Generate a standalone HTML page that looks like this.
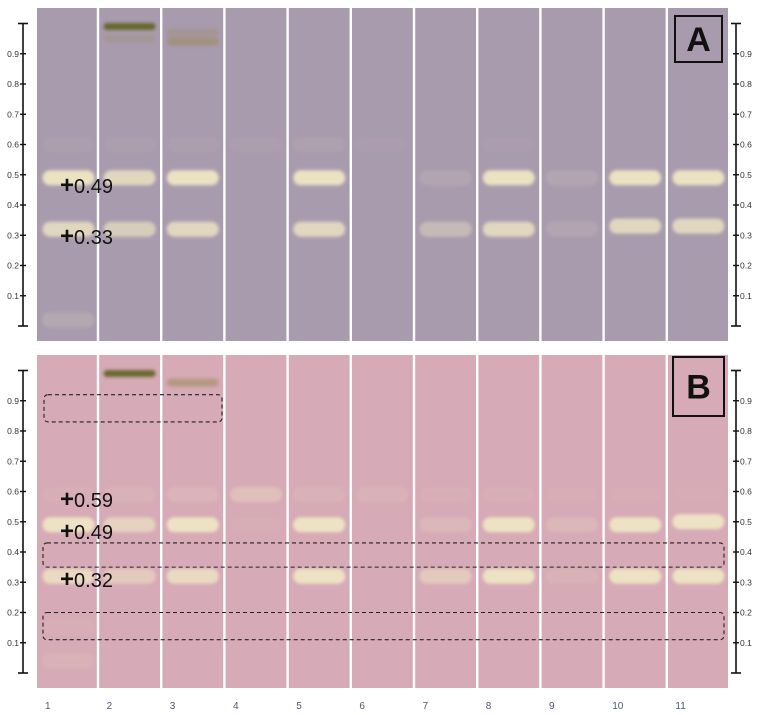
<!DOCTYPE html>
<html><head><meta charset="utf-8"><style>
html,body{margin:0;padding:0;background:#fff;width:761px;height:715px;overflow:hidden}
svg{display:block}
</style></head><body>
<svg id="chart" width="761" height="715" viewBox="0 0 761 715" xmlns="http://www.w3.org/2000/svg">
<defs>
<filter id="blur" x="-20%" y="-50%" width="140%" height="200%"><feGaussianBlur stdDeviation="1.6"/></filter>
</defs>
<g id="root"></g>
</svg>
<script>
// Data
const lanes = [1,2,3,4,5,6,7,8,9,10,11];
const axisTicks = [0.1,0.2,0.3,0.4,0.5,0.6,0.7,0.8,0.9];
// bands: [lane, rf, intensity(0..1), kind]
const bandsA = [
 [1,0.49,1,'c'],[1,0.32,0.9,'c'],[1,0.60,0.15,'c'],[1,0.02,0.35,'c'],
 [2,0.99,1,'g'],[2,0.95,0.3,'b'],[2,0.49,0.9,'c'],[2,0.32,0.8,'c'],[2,0.60,0.15,'c'],
 [3,0.97,0.35,'b'],[3,0.94,0.6,'b'],[3,0.49,1,'c'],[3,0.32,0.9,'c'],[3,0.60,0.15,'c'],
 [4,0.60,0.15,'c'],
 [5,0.49,1,'c'],[5,0.32,0.9,'c'],[5,0.60,0.2,'c'],
 [6,0.60,0.12,'c'],
 [7,0.49,0.3,'c'],[7,0.32,0.6,'c'],
 [8,0.49,1,'c'],[8,0.32,0.9,'c'],[8,0.60,0.12,'c'],
 [9,0.49,0.3,'c'],[9,0.32,0.3,'c'],
 [10,0.49,1,'c'],[10,0.33,0.9,'c'],
 [11,0.49,1,'c'],[11,0.33,0.9,'c']
];
const bandsB = [
 [1,0.49,1,'c'],[1,0.32,0.9,'c'],[1,0.59,0.2,'c'],[1,0.15,0.2,'c'],[1,0.04,0.3,'c'],
 [2,0.99,1,'g'],[2,0.49,0.8,'c'],[2,0.32,0.7,'c'],[2,0.59,0.3,'c'],
 [3,0.96,0.6,'b'],[3,0.49,1,'c'],[3,0.32,0.9,'c'],[3,0.59,0.35,'c'],
 [4,0.59,0.55,'c'],[4,0.49,0.15,'c'],
 [5,0.49,1,'c'],[5,0.32,1,'c'],[5,0.59,0.3,'c'],
 [6,0.59,0.3,'c'],
 [7,0.49,0.4,'c'],[7,0.32,0.7,'c'],[7,0.59,0.2,'c'],
 [8,0.49,1,'c'],[8,0.32,1,'c'],[8,0.59,0.2,'c'],
 [9,0.49,0.4,'c'],[9,0.32,0.3,'c'],[9,0.59,0.15,'c'],
 [10,0.49,1,'c'],[10,0.32,1,'c'],[10,0.59,0.15,'c'],
 [11,0.50,1,'c'],[11,0.32,1,'c'],[11,0.59,0.12,'c']
];
const annotA = [[0.49,'0.49',186],[0.33,'0.33',237]];
const annotB = [[0.59,'0.59',500],[0.49,'0.49',532],[0.32,'0.32',580]];
</script>
<script>
const NS='http://www.w3.org/2000/svg';
const root=document.getElementById('root');
function mk(tag,attrs,parent){const e=document.createElementNS(NS,tag);for(const k in attrs)e.setAttribute(k,attrs[k]);(parent||root).appendChild(e);return e;}
const plateX0=37, plateX1=728, laneW=63.2, sep0=98;
function laneCenter(i){ if(i===1) return (plateX0+sep0)/2+1; return sep0+laneW*(i-1.5); }
const panels=[
 {name:'a',top:8,bot:341,y0:326,y1:23.5,color:'#a99bae',bands:bandsA,annot:annotA,label:'A',box:[675,16,47,46]},
 {name:'b',top:355,bot:688,y0:673,y1:370.5,color:'#d6aab6',bands:bandsB,annot:annotB,label:'B',box:[673,357,51,59]}
];
panels.forEach(p=>{
 const y=rf=>p.y0+(p.y1-p.y0)*rf;
 const g=mk('g',{});
 
 
 const plate=mk('rect',{x:plateX0,y:p.top,width:plateX1-plateX0,height:p.bot-p.top,fill:p.color},g);
 
 
 p.bands.forEach(b=>{
  const cx=laneCenter(b[0]), cy=y(b[1]);
  let fill='#efe6c4', h=15, w=52;
  if(b[3]==='g'){fill='#5e6320';h=7;}
  if(b[3]==='b'){fill='#9a8a5a';h=8;}
  const op=b[3]==='c'?Math.pow(b[2],1.6)*0.95:b[2]*0.9;
  const r=mk('rect',{x:cx-w/2,y:cy-h/2,width:w,height:h,rx:h/2,fill:fill,opacity:op,filter:'url(#blur)'},g);
  
  
 });
 for(let i=0;i<10;i++){
  const sx=sep0+laneW*i;
  const s=mk('rect',{x:sx-1.2,y:p.top,width:2.4,height:p.bot-p.top,fill:'#ffffff'},g);
  
  
 }
 [[23,'left'],[736,'right']].forEach(([ax,side])=>{
  const ag=mk('g',{},g);
  
  
  mk('line',{x1:ax,y1:y(1),x2:ax,y2:y(0),stroke:'#111','stroke-width':1.6},ag);
  mk('line',{x1:ax-5,y1:y(1),x2:ax+5,y2:y(1),stroke:'#111','stroke-width':1.6},ag);
  mk('line',{x1:ax-5,y1:y(0),x2:ax+5,y2:y(0),stroke:'#111','stroke-width':1.6},ag);
  axisTicks.forEach(t=>{
   mk('line',{x1:ax-3,y1:y(t),x2:ax+3,y2:y(t),stroke:'#111','stroke-width':1.4},ag);
   const tx=mk('text',{x:side==='left'?ax-4:ax+4,y:y(t)+3,'font-size':8.5,'font-family':'Liberation Sans, sans-serif','text-anchor':side==='left'?'end':'start',fill:'#333'},ag);
   tx.textContent=t.toFixed(1);
   
   
  });
 });
 p.annot.forEach(a=>{
  const t=mk('text',{x:60,y:a[2]+7,'font-size':20,'font-family':'Liberation Sans, sans-serif',fill:'#111'},g);
  const plus=document.createElementNS(NS,'tspan');
  plus.setAttribute('font-size','24');
  plus.setAttribute('font-weight','bold');
  plus.textContent='+';
  t.appendChild(plus);
  const num=document.createElementNS(NS,'tspan');
  num.textContent=a[1];
  t.appendChild(num);
  
  
 });
 const bx=mk('rect',{x:p.box[0],y:p.box[1],width:p.box[2],height:p.box[3],fill:'none',stroke:'#111','stroke-width':2},g);
 
 
 const lt=mk('text',{x:p.box[0]+p.box[2]/2,y:p.box[1]+p.box[3]/2+12,'font-size':34,'font-weight':'bold','font-family':'Liberation Sans, sans-serif','text-anchor':'middle',fill:'#111'},g);
 lt.textContent=p.label;
 
 
});
const boxesB=[[44,222,0.92,0.83],[43,724,0.43,0.35],[43,724,0.20,0.11]];
boxesB.forEach(b=>{
 const yy=rf=>673+(370.5-673)*rf;
 const r=mk('rect',{x:b[0],y:yy(b[2]),width:b[1]-b[0],height:yy(b[3])-yy(b[2]),rx:4,fill:'none',stroke:'#222','stroke-width':1.1,'stroke-dasharray':'4,3'});
 
 
});
lanes.forEach(l=>{
 const t=mk('text',{x:l===1?45:laneCenter(l)-23,y:709,'font-size':10,'font-family':'Liberation Sans, sans-serif',fill:'#4a5878'});
 t.textContent=l;
 
 
});
</script>
</body></html>
